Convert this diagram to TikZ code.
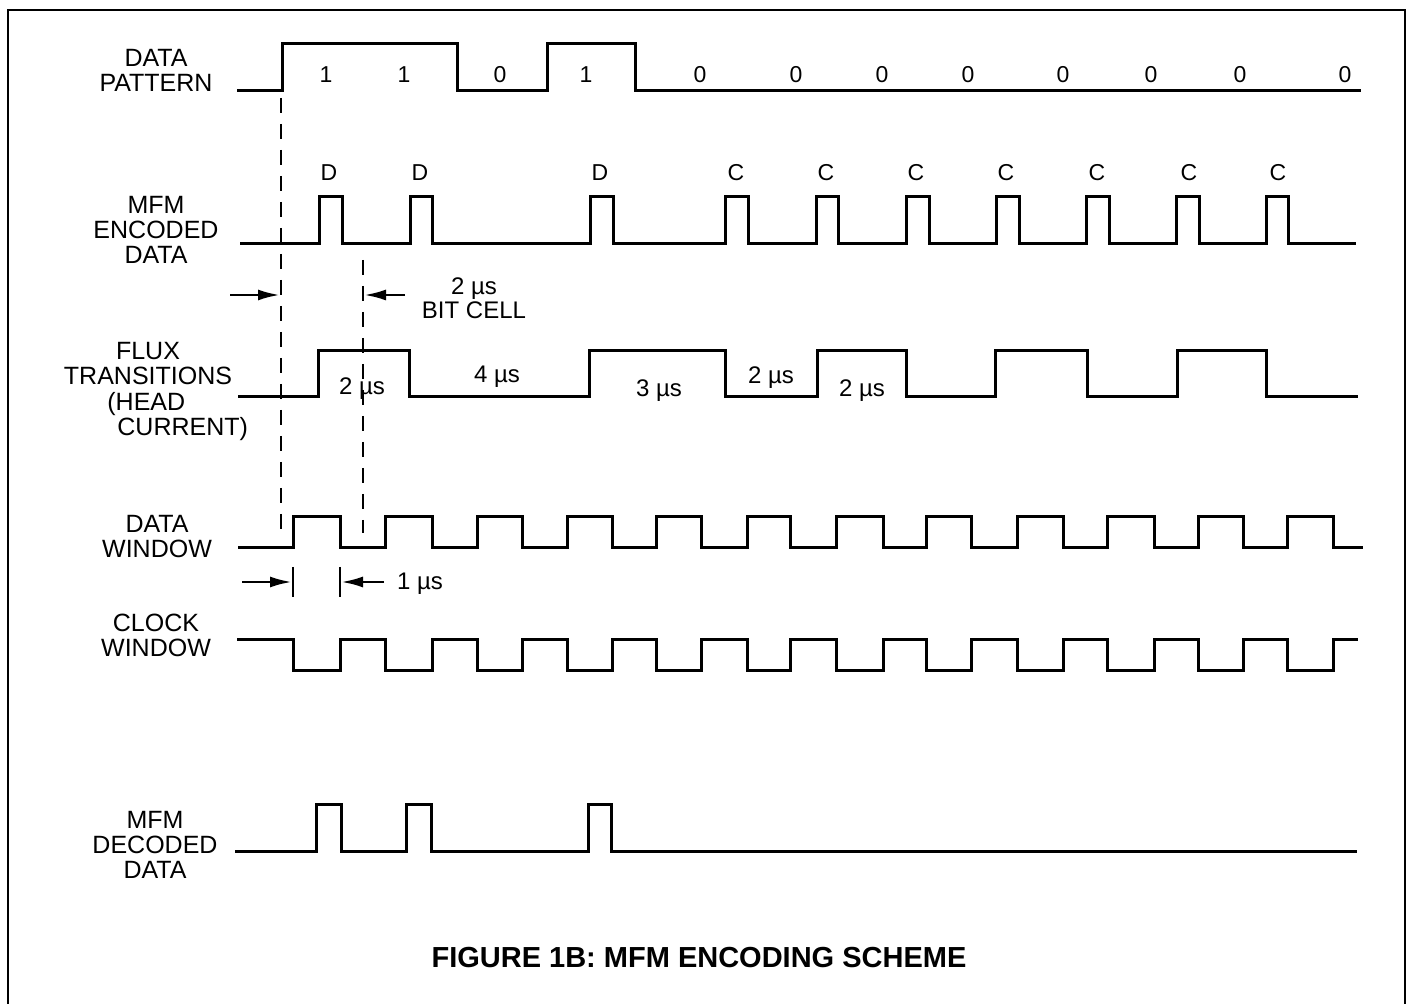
\documentclass[tikz,border=0pt]{standalone}
\usepackage{fontspec}
\setmainfont{Liberation Sans}
\usetikzlibrary{arrows.meta}

\begin{document}
\begin{tikzpicture}[x=0.5pt, y=-0.5pt,
    signal/.style={line width=1.5pt},
    guide/.style={line width=1.3pt, dash pattern=on 7.5pt off 5.5pt},
    dimarrow/.style={line width=1.4pt, -{Latex[length=11pt, width=5.5pt]}},
    dimtick/.style={line width=1.3pt},
    rowlabel/.style={inner sep=0pt, align=center, font=\fontsize{12.5}{12.5}\selectfont},
    bitlabel/.style={inner sep=0pt, font=\fontsize{11.5}{12}\selectfont},
    timelabel/.style={inner sep=0pt, align=center, font=\fontsize{12}{12}\selectfont}]
        \useasboundingbox (0,0) rectangle (1409,1004);
        % Frame
        \draw[line width=1.3pt] (8,1004) -- (8,10) -- (1405,10) -- (1405,1004);

        % Data pattern
        \node[rowlabel] (lbl-pattern) at (156,70.5) {DATA\\PATTERN};
        \draw[signal] (237,91) -- (282,91) -- (282,44) -- (457,44) -- (457,91)
            -- (547,91) -- (547,44) -- (635,44) -- (635,91) -- (1361,91);
        \node[bitlabel] (bit1) at (326,75) {1};
        \node[bitlabel] (bit2) at (404,75) {1};
        \node[bitlabel] (bit3) at (500,75) {0};
        \node[bitlabel] (bit4) at (586,75) {1};
        \foreach \x [count=\i from 5] in {700,796,882,968,1063,1151,1240,1345}
            \node[bitlabel] (bit\i) at (\x,75) {0};

        % MFM encoded data
        \node[rowlabel] (lbl-enc) at (156,229.5) {MFM\\ENCODED\\DATA};
        \draw[signal] (240,244)
            \foreach \ps/\pe in {319/342,410/432,590/613,725/748,816/838,906/929,996/1019,1086/1109,1176/1199,1266/1288}
            { -- (\ps,244) -- (\ps,197) -- (\pe,197) -- (\pe,244) } -- (1356,244);
        \foreach \x [count=\i] in {329,420,600}
            \node[bitlabel] (dmark\i) at (\x,173) {D};
        \foreach \x [count=\i] in {736,826,916,1006,1097,1189,1278}
            \node[bitlabel] (cmark\i) at (\x,173) {C};

        % Bit cell guides
        \draw[guide] (281,98) -- (281,533);
        \draw[guide] (363,260) -- (363,533);
        \coordinate (cell-lt) at (230,295);
        \coordinate (cell-l) at (280,295);
        \coordinate (cell-rt) at (405,295);
        \coordinate (cell-r) at (364,295);
        \draw[dimarrow] (cell-lt) -- (cell-l);
        \draw[dimarrow] (cell-rt) -- (cell-r);
        \node[timelabel] (lbl-cell) at (474,298) {2 µs\\BIT CELL};

        % Flux transitions
        \node[rowlabel] (lbl-flux) at (148,364) {FLUX\\TRANSITIONS};
        \node[rowlabel, anchor=west, align=left] (lbl-head) at (107,417) {(HEAD\\\hspace{5pt}CURRENT)};
        \draw[signal] (238,397) -- (318,397) -- (318,351) -- (409,351) -- (409,397)
            -- (589,397) -- (589,351) -- (725,351) -- (725,397) -- (817,397) -- (817,351)
            -- (906,351) -- (906,397) -- (995,397) -- (995,351) -- (1087,351) -- (1087,397)
            -- (1177,397) -- (1177,351) -- (1266,351) -- (1266,397) -- (1358,397);
        \node[timelabel] (flux1) at (362,389) {2 µs};
        \node[timelabel] (flux2) at (497,377) {4 µs};
        \node[timelabel] (flux3) at (659,391) {3 µs};
        \node[timelabel] (flux4) at (771,378) {2 µs};
        \node[timelabel] (flux5) at (862,391) {2 µs};

        % Data window
        \node[rowlabel] (lbl-dwin) at (157,536.5) {DATA\\WINDOW};
        \draw[signal] (238,548)
            \foreach \ps/\pe in {293/340,385/432,477/522,567/612,656/701,747/790,836/883,926/971,1017/1063,1107/1154,1198/1243,1287/1333}
            { -- (\ps,548) -- (\ps,517) -- (\pe,517) -- (\pe,548) } -- (1363,548);
        \draw[dimtick] (293,567) -- (293,597);
        \draw[dimtick] (340,567) -- (340,597);
        \coordinate (win-lt) at (242,582);
        \coordinate (win-l) at (292,582);
        \coordinate (win-rt) at (384,582);
        \coordinate (win-r) at (341,582);
        \draw[dimarrow] (win-lt) -- (win-l);
        \draw[dimarrow] (win-rt) -- (win-r);
        \node[timelabel] (lbl-win) at (420,584) {1 µs};

        % Clock window
        \node[rowlabel] (lbl-cwin) at (156,635.5) {CLOCK\\WINDOW};
        \draw[signal] (237,640)
            \foreach \ps/\pe in {293/340,385/432,477/522,567/612,656/701,747/790,836/883,926/971,1017/1063,1107/1154,1198/1243,1287/1333}
            { -- (\ps,640) -- (\ps,671) -- (\pe,671) -- (\pe,640) } -- (1358,640);

        % MFM decoded data
        \node[rowlabel] (lbl-dec) at (155,845) {MFM\\DECODED\\DATA};
        \draw[signal] (235,852)
            \foreach \ps/\pe in {316/341,406/431,588/611}
            { -- (\ps,852) -- (\ps,805) -- (\pe,805) -- (\pe,852) } -- (1357,852);

        % Caption
        \node[inner sep=0pt, font=\fontsize{14.5}{15}\selectfont\bfseries] (caption) at (699,958)
            {FIGURE 1B: MFM ENCODING SCHEME};
    \end{tikzpicture}
\end{document}
